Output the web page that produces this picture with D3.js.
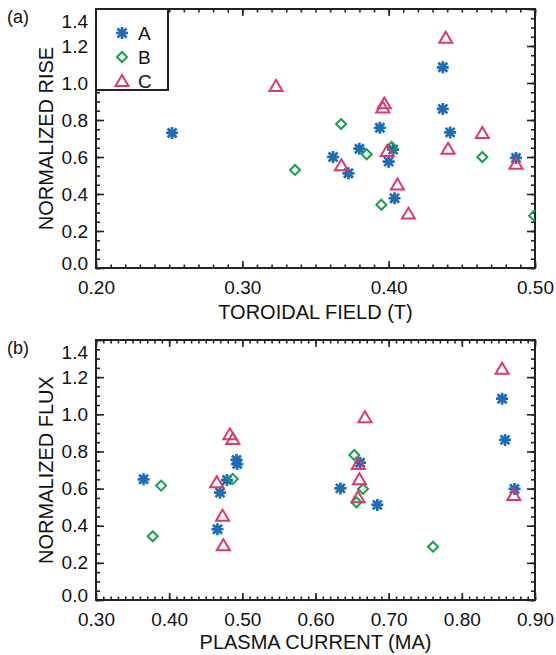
<!DOCTYPE html>
<html>
<head>
<meta charset="utf-8">
<script src="https://cdn.jsdelivr.net/npm/d3@7"></script>
<style>
  body { margin: 0; background: #fff; }
  svg text { font-family: "Liberation Sans", Arial, Helvetica, sans-serif; fill: #111; }
</style>
</head>
<body>
<div id="chart"></div>
<script>
// Chart data
var seriesNames = ["A", "B", "C"];
var seriesColors = ["#1a6db6", "#16a04c", "#dc3a6a"];

// panel (a): normalized rise vs toroidal field
var fieldA = [0.252, 0.437, 0.437, 0.442, 0.394, 0.380, 0.362, 0.3725, 0.400, 0.403, 0.404, 0.487];
var riseA  = [0.73, 1.085, 0.86, 0.733, 0.758, 0.645, 0.600, 0.512, 0.575, 0.64, 0.377, 0.595];
var fieldB = [0.336, 0.3675, 0.385, 0.402, 0.395, 0.464, 0.4994];
var riseB  = [0.53, 0.778, 0.615, 0.654, 0.342, 0.600, 0.283];
var fieldC = [0.323, 0.439, 0.397, 0.396, 0.464, 0.4406, 0.399, 0.3677, 0.487, 0.406, 0.4135];
var riseC  = [0.984, 1.245, 0.89, 0.867, 0.73, 0.645, 0.632, 0.555, 0.564, 0.452, 0.294];

// panel (b): normalized flux vs plasma current
var currentA = [0.365, 0.4695, 0.466, 0.479, 0.492, 0.493, 0.634, 0.661, 0.6845, 0.855, 0.859, 0.872];
var fluxA    = [0.65, 0.578, 0.381, 0.646, 0.754, 0.732, 0.601, 0.739, 0.512, 1.084, 0.862, 0.598];
var currentB = [0.389, 0.3775, 0.487, 0.653, 0.665, 0.656, 0.7606];
var fluxB    = [0.616, 0.343, 0.652, 0.781, 0.598, 0.526, 0.287];
var currentC = [0.465, 0.473, 0.474, 0.483, 0.487, 0.6676, 0.855, 0.6585, 0.660, 0.658, 0.871];
var fluxC    = [0.634, 0.454, 0.295, 0.892, 0.867, 0.984, 1.245, 0.732, 0.65, 0.553, 0.565];

// tick values
var fieldTicks = [0.20, 0.30, 0.40, 0.50];
var currentTicks = [0.30, 0.40, 0.50, 0.60, 0.70, 0.80, 0.90];
var yTicks = [0.0, 0.2, 0.4, 0.6, 0.8, 1.0, 1.2, 1.4];

var svgWidth = 556;
var svgHeight = 655;

var svg = d3.select("#chart")
  .append("svg")
  .attr("width", svgWidth)
  .attr("height", svgHeight);

// marker shapes
var symbolPath = {
  A: "M-6,0H6M0,-6V6M-4.5,-4.5L4.5,4.5M-4.5,4.5L4.5,-4.5",
  B: "M0,-5L5,0L0,5L-5,0Z",
  C: "M-6.5,5L6.5,5L0,-6Z"
};
var symbolWidth = [2.7, 2, 2];

function drawPanel(opts) {
  var left = 96, right = 535;
  var top = opts.top, bottom = opts.bottom;

  var x = d3.scaleLinear().domain(opts.xDomain).range([left, right]);
  var y = d3.scaleLinear().domain([0, 1.4]).range([bottom, top]);

  var g = svg.append("g");

  // minor ticks (every 0.01 on x, 0.05 on y)
  var xMinor = d3.range(Math.round(opts.xDomain[0] * 100), Math.round(opts.xDomain[1] * 100) + 1).map(d => d / 100);
  var yMinor = d3.range(0, 29).map(d => d * 0.05);

  g.append("g")
    .attr("transform", `translate(0, ${bottom})`)
    .call(d3.axisBottom(x).tickValues(xMinor).tickSize(-3.5).tickFormat(""));
  g.append("g")
    .attr("transform", `translate(0, ${top})`)
    .call(d3.axisTop(x).tickValues(xMinor).tickSize(-3.5).tickFormat(""));
  g.append("g")
    .attr("transform", `translate(${left}, 0)`)
    .call(d3.axisLeft(y).tickValues(yMinor).tickSize(-4).tickFormat(""));
  g.append("g")
    .attr("transform", `translate(${right}, 0)`)
    .call(d3.axisRight(y).tickValues(yMinor).tickSize(-4).tickFormat(""));

  // major ticks + labels
  g.append("g")
    .attr("transform", `translate(0, ${bottom})`)
    .call(d3.axisBottom(x).tickValues(opts.xTicks).tickSize(-7).tickPadding(13).tickFormat(d3.format(".2f")));
  g.append("g")
    .attr("transform", `translate(0, ${top})`)
    .call(d3.axisTop(x).tickValues(opts.xTicks).tickSize(-7).tickFormat(""));
  var leftAxis = g.append("g")
    .attr("transform", `translate(${left}, 0)`)
    .call(d3.axisLeft(y).tickValues(yTicks).tickSize(-8).tickPadding(8).tickFormat(d3.format(".1f")));
  g.append("g")
    .attr("transform", `translate(${right}, 0)`)
    .call(d3.axisRight(y).tickValues(yTicks).tickSize(-8).tickFormat(""));

  g.selectAll(".domain").remove();
  g.selectAll(".tick line").attr("stroke", "#222").attr("stroke-width", 1.6);
  g.selectAll(".tick text").style("font-size", "19px").attr("fill", "#111");

  // IDL nudges the end labels inward
  leftAxis.selectAll(".tick text").attr("dy", d => d === 1.4 ? "0.95em" : (d === 0 ? "0.1em" : "0.32em"));

  // frame
  g.append("rect")
    .attr("x", left).attr("y", top)
    .attr("width", right - left).attr("height", bottom - top)
    .attr("fill", "none").attr("stroke", "#222").attr("stroke-width", 2);

  // clip points to the plot box
  var clipId = "clip" + opts.id;
  svg.append("clipPath").attr("id", clipId)
    .append("rect").attr("x", left).attr("y", top)
    .attr("width", right - left).attr("height", bottom - top);

  var pts = g.append("g").attr("clip-path", `url(#${clipId})`);
  opts.series.forEach(function (s, i) {
    var data = s.xs.map((v, j) => ({ x: v, y: s.ys[j] }));
    pts.selectAll(null)
      .data(data)
      .enter().append("path")
      .attr("d", symbolPath[seriesNames[i]])
      .attr("transform", d => `translate(${x(d.x)}, ${y(d.y)})`)
      .attr("fill", "none")
      .attr("stroke", seriesColors[i])
      .attr("stroke-width", symbolWidth[i]);
  });

  // axis titles
  g.append("text")
    .attr("x", (left + right) / 2).attr("y", opts.xTitleY)
    .attr("text-anchor", "middle")
    .style("font-size", "20px")
    .text(opts.xTitle);
  g.append("text")
    .attr("transform", `translate(53, ${(top + bottom) / 2}) rotate(-90)`)
    .attr("text-anchor", "middle")
    .style("font-size", "20px")
    .text(opts.yTitle);

  // panel letter
  g.append("text")
    .attr("x", 7).attr("y", top + 14)
    .style("font-size", "18px")
    .text(opts.letter);

  return { g: g, x: x, y: y };
}

var panelA = drawPanel({
  id: "a", top: 9, bottom: 268,
  xDomain: [0.2, 0.5], xTicks: fieldTicks,
  xTitle: "TOROIDAL FIELD (T)", yTitle: "NORMALIZED RISE",
  xTitleY: 319, letter: "(a)",
  series: [
    { xs: fieldA, ys: riseA },
    { xs: fieldB, ys: riseB },
    { xs: fieldC, ys: riseC }
  ]
});

drawPanel({
  id: "b", top: 340, bottom: 600,
  xDomain: [0.3, 0.9], xTicks: currentTicks,
  xTitle: "PLASMA CURRENT (MA)", yTitle: "NORMALIZED FLUX",
  xTitleY: 649, letter: "(b)",
  series: [
    { xs: currentA, ys: fluxA },
    { xs: currentB, ys: fluxB },
    { xs: currentC, ys: fluxC }
  ]
});

// legend box in panel (a)
var legend = panelA.g.append("g");
legend.append("rect")
  .attr("x", 96).attr("y", 9).attr("width", 72).attr("height", 81)
  .attr("fill", "#fff").attr("stroke", "#222").attr("stroke-width", 2);

seriesNames.forEach(function (name, i) {
  var ly = 33 + i * 24;
  legend.append("path")
    .attr("d", symbolPath[name])
    .attr("transform", `translate(122, ${ly})`)
    .attr("fill", "none")
    .attr("stroke", seriesColors[i])
    .attr("stroke-width", symbolWidth[i]);
  legend.append("text")
    .attr("x", 138).attr("y", ly + 7)
    .style("font-size", "19px")
    .text(name);
});
</script>
</body>
</html>
